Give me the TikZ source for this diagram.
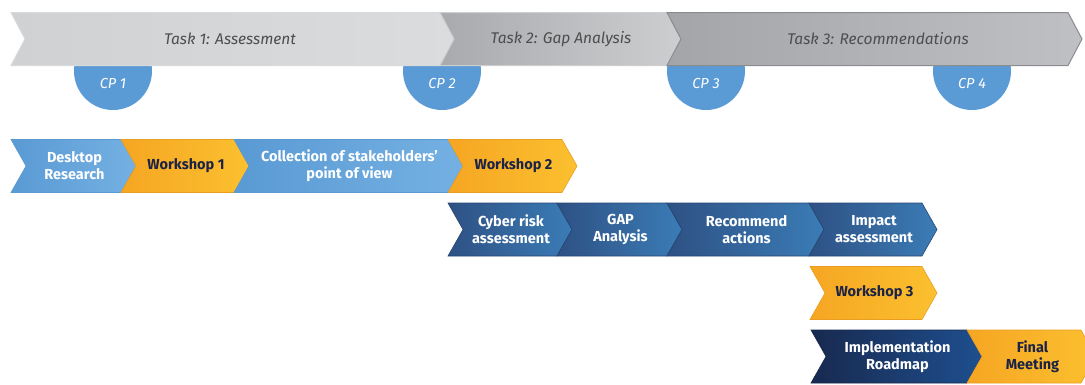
\documentclass[tikz,border=0pt]{standalone}
\usepackage{fontspec}
\setmainfont{Fira Sans}
\definecolor{cpblue}{HTML}{5B9BD5}
\definecolor{ltblueL}{HTML}{5A9AD4}
\definecolor{ltblueR}{HTML}{74B0E2}
\definecolor{orangeL}{HTML}{F6A623}
\definecolor{orangeR}{HTML}{FBC02F}
\definecolor{dkblueL}{HTML}{2E5184}
\definecolor{dkblueR}{HTML}{3B7CB6}
\definecolor{navyL}{HTML}{18294F}
\definecolor{navyR}{HTML}{1E4F8F}
\definecolor{navytext}{HTML}{1B2346}
\definecolor{taskA}{HTML}{D0D1D3}
\definecolor{taskAr}{HTML}{DBDCDE}
\definecolor{taskB}{HTML}{A9AAAD}
\definecolor{taskBr}{HTML}{CDCED0}
\definecolor{taskC}{HTML}{A4A5A9}
\definecolor{taskCr}{HTML}{BFC0C3}
\definecolor{tasktext}{HTML}{4D4D4F}

\begin{document}
\begin{tikzpicture}[x=1pt,y=-1pt,
  lbl/.style={align=center,font=\bfseries\fontsize{14.5}{17}\selectfont,text=white},
  lblor/.style={lbl,text=navytext},
  tasklbl/.style={font=\itshape\fontsize{15.5}{18}\selectfont,text=tasktext},
  cplbl/.style={font=\itshape\fontsize{14.5}{16}\selectfont,text=white},
  lightblue/.style={left color=ltblueL,right color=ltblueR,draw=ltblueL,line width=0.6pt},
  orange/.style={left color=orangeL,right color=orangeR,draw=orangeL!95!black,line width=0.6pt},
  darkblue/.style={left color=dkblueL,right color=dkblueR,draw=dkblueL!85!black,line width=0.6pt},
  navy/.style={left color=navyL,right color=navyR,draw=navyL,line width=0.6pt}]
\def\H{53}
\def\D{15}
\useasboundingbox (0,0) rectangle (1085,384);
\clip (0,0) rectangle (1085,384);

% checkpoints behind the task band
\foreach \x/\n in {113/1,442/2,706/3,972/4}
  \fill[cpblue] (\x,71) circle (39);

% task band
\foreach \l/\r/\a/\b/\c in {11/454/taskA/taskAr/taskA!80!white,440/682/taskB/taskBr/taskBr,667/1082/taskC/taskCr/taskC!85!black}
  \path[left color=\a,right color=\b,draw=\c,line width=1pt]
    (\l,12.5) -- ({\r-14},12.5) -- (\r,39) -- ({\r-14},65.5) -- (\l,65.5) -- ({\l+14},39) -- cycle;

\node[tasklbl] (task1) at (230,39) {Task 1: Assessment};
\node[tasklbl] (task2) at (561,39) {Task 2: Gap Analysis};
\node[tasklbl] (task3) at (878,39) {Task 3: Recommendations};

\foreach \x/\n in {113/1,442/2,706/3,972/4}
  \node[cplbl] (cp\n) at (\x,83) {CP \n};

% activity chevrons: left / tip / top / fill / text style / name / label
\foreach \l/\r/\y/\s/\k/\n/\t in {
    11/136/139.5/lightblue/lbl/desk/{Desktop\\Research},
    121/249/139.5/orange/lblor/ws1/{Workshop 1},
    234/463/139.5/lightblue/lbl/coll/{Collection of stakeholders’\\point of view},
    448/577/139.5/orange/lblor/ws2/{Workshop 2},
    448/572/203/darkblue/lbl/cyber/{Cyber risk\\assessment},
    557/682/203/darkblue/lbl/gap/{GAP\\Analysis},
    667/824/203/darkblue/lbl/recom/{Recommend\\actions},
    809/937/203/darkblue/lbl/impact/{Impact\\assessment},
    810/937/266.5/orange/lblor/ws3/{Workshop 3},
    811/982/330/navy/lbl/roadmap/{Implementation\\Roadmap},
    967/1096/330/orange/lblor/final/{Final\\Meeting}} {
  \path[\s] (\l,\y) -- ({\r-\D},\y) -- (\r,{\y+\H/2}) -- ({\r-\D},{\y+\H})
    -- (\l,{\y+\H}) -- ({\l+\D},{\y+\H/2}) -- cycle;
  \node[\k] (\n) at ({(\l+\r)/2+1},{\y+\H/2}) {\t};
}
\end{tikzpicture}
\end{document}
